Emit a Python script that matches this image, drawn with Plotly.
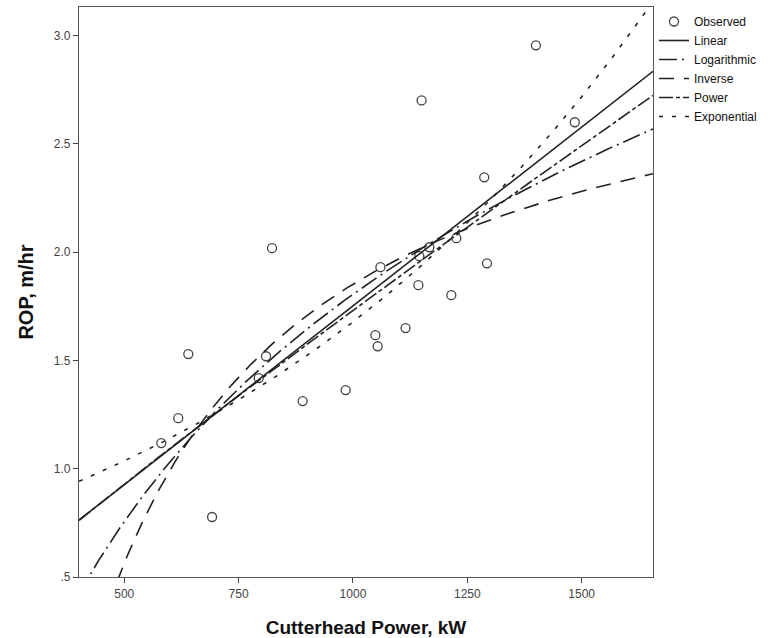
import numpy as np
import plotly.graph_objects as go

power_kw = [581, 618, 640, 692, 794, 810, 823, 890, 984, 1049, 1054, 1060,
            1115, 1143, 1145, 1150, 1167, 1215, 1226, 1287, 1293, 1400, 1485]
rop = [1.118, 1.233, 1.529, 0.777, 1.418, 1.519, 2.018, 1.312, 1.363, 1.616,
       1.565, 1.930, 1.649, 1.847, 1.981, 2.700, 2.022, 1.801, 2.064, 2.345,
       1.948, 2.954, 2.599]

x_ticks = [500, 750, 1000, 1250, 1500]
y_ticks = [0.5, 1.0, 1.5, 2.0, 2.5, 3.0]
y_tick_labels = [".5", "1.0", "1.5", "2.0", "2.5", "3.0"]

x = np.array(power_kw, dtype=float)
y = np.array(rop, dtype=float)
xs = np.linspace(401, 1656, 400)

# Curve estimation models (least squares, as in SPSS)
b1, a1 = np.polyfit(x, y, 1)
lin = a1 + b1 * xs
b2, a2 = np.polyfit(np.log(x), y, 1)
logc = a2 + b2 * np.log(xs)
b3, a3 = np.polyfit(1.0 / x, y, 1)
inv = a3 + b3 / xs
b4, a4 = np.polyfit(np.log(x), np.log(y), 1)
pw = np.exp(a4) * xs ** b4
b5, a5 = np.polyfit(x, np.log(y), 1)
ex = np.exp(a5) * np.exp(b5 * xs)

line_col = "#222222"
fig = go.Figure()
fig.add_trace(go.Scatter(x=power_kw, y=rop, mode="markers", name="Observed",
                         marker=dict(symbol="circle-open", size=9,
                                     color="#444444", line=dict(width=1.3))))
fig.add_trace(go.Scatter(x=xs, y=lin, mode="lines", name="Linear",
                         line=dict(color=line_col, width=1.6)))
fig.add_trace(go.Scatter(x=xs, y=logc, mode="lines", name="Logarithmic",
                         line=dict(color=line_col, width=1.6, dash="18px,5px,2px,5px")))
fig.add_trace(go.Scatter(x=xs, y=inv, mode="lines", name="Inverse",
                         line=dict(color=line_col, width=1.6, dash="15px,10px")))
fig.add_trace(go.Scatter(x=xs, y=pw, mode="lines", name="Power",
                         line=dict(color=line_col, width=1.6, dash="14px,3px,4px,3px")))
fig.add_trace(go.Scatter(x=xs, y=ex, mode="lines", name="Exponential",
                         line=dict(color=line_col, width=1.6, dash="4px,9px")))

axis_common = dict(showgrid=False, zeroline=False, showline=True, mirror=True,
                   linecolor="#555555", linewidth=1.2, ticks="outside",
                   ticklen=5, tickcolor="#444444", automargin=False,
                   tickfont=dict(family="Liberation Sans, Arial", size=12, color="#444444"))

fig.update_layout(
    width=768, height=638,
    margin=dict(l=79, r=114, t=7, b=61),
    paper_bgcolor="white", plot_bgcolor="white",
    xaxis=dict(range=[401, 1656], tickvals=x_ticks,
               title=dict(text="<b>Cutterhead Power, kW</b>", standoff=21,
                          font=dict(family="Liberation Sans, Arial", size=19, color="#111111")),
               **axis_common),
    yaxis=dict(range=[0.5, 3.131], tickvals=y_ticks, ticktext=y_tick_labels,
               title=dict(text="<b>ROP, m/hr</b>", standoff=14,
                          font=dict(family="Liberation Sans, Arial", size=20, color="#111111")),
               **axis_common),
    legend=dict(x=1.0, y=1.0, xanchor="left", yanchor="top",
                font=dict(family="Liberation Sans, Arial", size=12, color="#111111"),
                bgcolor="rgba(0,0,0,0)", tracegroupgap=0, itemwidth=30),
    showlegend=True,
)

fig.write_html("out.html")
